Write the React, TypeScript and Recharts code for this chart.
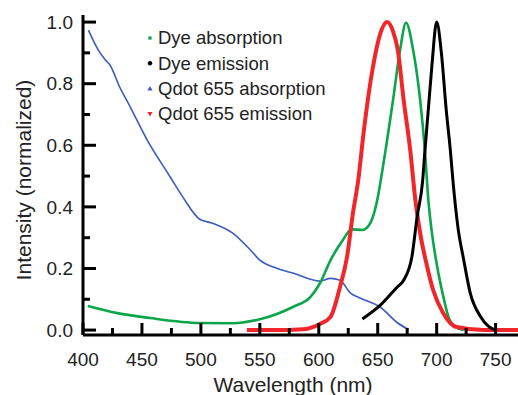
import React from 'react';
import { ComposedChart, Line, XAxis, YAxis } from 'recharts';

// Qdot 655 absorption (blue)
const qdotAbsWl = [404.6, 413, 419, 423, 431, 440, 454, 474, 485, 499, 510, 527, 542, 550, 565, 578, 601, 610, 618, 627, 635, 652, 667, 676];
const qdotAbsVal = [0.974, 0.909, 0.877, 0.86, 0.79, 0.725, 0.62, 0.497, 0.43, 0.36, 0.347, 0.315, 0.26, 0.227, 0.2, 0.185, 0.159, 0.168, 0.162, 0.12, 0.104, 0.075, 0.023, 0.002];

// Dye absorption (green)
const dyeAbsWl = [404, 429, 457, 499, 527, 550, 578, 593, 601, 610, 620, 628, 637, 644, 650, 654, 658, 663, 669, 674, 680, 686, 690, 693, 696, 700.5, 705, 710, 716, 723];
const dyeAbsVal = [0.078, 0.055, 0.039, 0.023, 0.022, 0.035, 0.075, 0.108, 0.152, 0.227, 0.29, 0.327, 0.325, 0.35, 0.43, 0.52, 0.617, 0.747, 0.91, 0.998, 0.91, 0.747, 0.584, 0.42, 0.315, 0.205, 0.12, 0.043, 0.01, 0];

// Dye emission (black)
const dyeEmWl = [637, 652, 666.6, 672, 679, 683.5, 688, 690, 693, 696, 700, 704, 708, 711.6, 714, 718, 723, 728.5, 737, 744, 750];
const dyeEmVal = [0.036, 0.08, 0.14, 0.162, 0.238, 0.37, 0.48, 0.58, 0.72, 0.86, 1.0, 0.9, 0.72, 0.584, 0.477, 0.335, 0.227, 0.12, 0.045, 0.012, 0];

// Qdot 655 emission (red)
const qdotEmWl = [539, 560, 587, 601, 610, 618, 624, 629, 633.5, 638, 646, 652, 658, 663, 667, 672, 677.6, 682, 686, 692, 697, 705.6, 717, 740, 769];
const qdotEmVal = [0, 0, 0.003, 0.02, 0.043, 0.14, 0.238, 0.38, 0.487, 0.64, 0.855, 0.96, 1.0, 0.97, 0.91, 0.747, 0.584, 0.42, 0.315, 0.205, 0.13, 0.055, 0.01, 0, 0];

const xTicks = [400, 425, 450, 475, 500, 525, 550, 575, 600, 625, 650, 675, 700, 725, 750];
const yTicks = [0, 0.1, 0.2, 0.3, 0.4, 0.5, 0.6, 0.7, 0.8, 0.9, 1.0];

const legendNames = ['Dye absorption', 'Dye emission', 'Qdot 655 absorption', 'Qdot 655 emission'];

const COLORS = {
  dyeAbs: '#0ba54b',
  dyeEm: '#000000',
  qdotAbs: '#3a5bbf',
  qdotEm: '#f0262b',
};

const toPts = (xs: number[], ys: number[]) => xs.map((x, i) => ({ x, y: ys[i] }));

const FONT = '"Liberation Sans", Arial, Helvetica, sans-serif';

const XTick = (props: any) => {
  const { x, y, payload } = props;
  const major = payload.value % 50 === 0;
  return (
    <g>
      <line x1={x} x2={x} y1={y} y2={y - (major ? 12 : 7)} stroke="#000" strokeWidth={3} />
      {major && (
        <text x={x} y={y + 31} textAnchor="middle" fontSize={19} fontFamily={FONT} fill="#222">
          {payload.value}
        </text>
      )}
    </g>
  );
};

const YTick = (props: any) => {
  const { x, y, payload } = props;
  const major = Math.round(payload.value * 10) % 2 === 0;
  return (
    <g>
      <line x1={x} x2={x + (major ? 13 : 7)} y1={y} y2={y} stroke="#000" strokeWidth={3} />
      {major && (
        <text x={x - 10} y={y} dy="0.35em" textAnchor="end" fontSize={19} fontFamily={FONT} fill="#222">
          {payload.value.toFixed(1)}
        </text>
      )}
    </g>
  );
};

const Marker = ({ i, cx, cy }: { i: number; cx: number; cy: number }) => {
  if (i === 0) return <rect x={cx - 1.6} y={cy - 1.6} width={3.2} height={3.2} fill={COLORS.dyeAbs} />;
  if (i === 1) return <circle cx={cx} cy={cy} r={2.2} fill={COLORS.dyeEm} />;
  if (i === 2) return <polygon points={`${cx},${cy - 2.5} ${cx + 2.6},${cy + 2} ${cx - 2.6},${cy + 2}`} fill={COLORS.qdotAbs} />;
  return <polygon points={`${cx - 2.6},${cy - 2} ${cx + 2.6},${cy - 2} ${cx},${cy + 2.5}`} fill={COLORS.qdotEm} />;
};

export default function App() {
  return (
    <div style={{ position: 'absolute', left: 0, top: 0, width: 518, height: 395, background: '#fff' }}>
      <ComposedChart width={518} height={395} margin={{ top: 15, right: 0, bottom: 0, left: 0 }}>
        <XAxis
          type="number"
          dataKey="x"
          domain={[400, 769]}
          ticks={xTicks}
          allowDataOverflow
          height={60}
          tickSize={0}
          tickMargin={0}
          tickLine={false}
          tick={<XTick />}
          interval={0}
          axisLine={{ stroke: '#000', strokeWidth: 3 }}
        />
        <YAxis
          type="number"
          domain={[-0.016, 1.023]}
          ticks={yTicks}
          allowDataOverflow
          width={83}
          tickSize={0}
          tickMargin={0}
          tickLine={false}
          tick={<YTick />}
          interval={0}
          axisLine={{ stroke: '#000', strokeWidth: 3 }}
        />
        <Line data={toPts(qdotAbsWl, qdotAbsVal)} dataKey="y" name={legendNames[2]} type="monotone" stroke={COLORS.qdotAbs} strokeWidth={1.6} dot={false} isAnimationActive={false} />
        <Line data={toPts(dyeAbsWl, dyeAbsVal)} dataKey="y" name={legendNames[0]} type="monotone" stroke={COLORS.dyeAbs} strokeWidth={2.6} dot={false} isAnimationActive={false} />
        <Line data={toPts(qdotEmWl, qdotEmVal)} dataKey="y" name={legendNames[3]} type="monotone" stroke={COLORS.qdotEm} strokeWidth={4} dot={false} isAnimationActive={false} />
        <Line data={toPts(dyeEmWl, dyeEmVal)} dataKey="y" name={legendNames[1]} type="monotone" stroke={COLORS.dyeEm} strokeWidth={3} dot={false} isAnimationActive={false} />
      </ComposedChart>
      <svg style={{ position: 'absolute', left: 0, top: 0, pointerEvents: 'none' }} width={518} height={395}>
        <text x={31} y={180} transform="rotate(-90 31 180)" textAnchor="middle" fontSize={21} fontFamily={FONT} fill="#222">
          Intensity (normalized)
        </text>
        <text x={293} y={392} textAnchor="middle" fontSize={21} fontFamily={FONT} fill="#222">
          Wavelength (nm)
        </text>
        {legendNames.map((n, i) => {
          const cy = 38 + i * 25.3;
          return (
            <g key={n}>
              <Marker i={i} cx={150} cy={cy} />
              <text x={158} y={cy} dy="0.35em" fontSize={18.5} fontFamily={FONT} fill="#222">
                {n}
              </text>
            </g>
          );
        })}
      </svg>
    </div>
  );
}
